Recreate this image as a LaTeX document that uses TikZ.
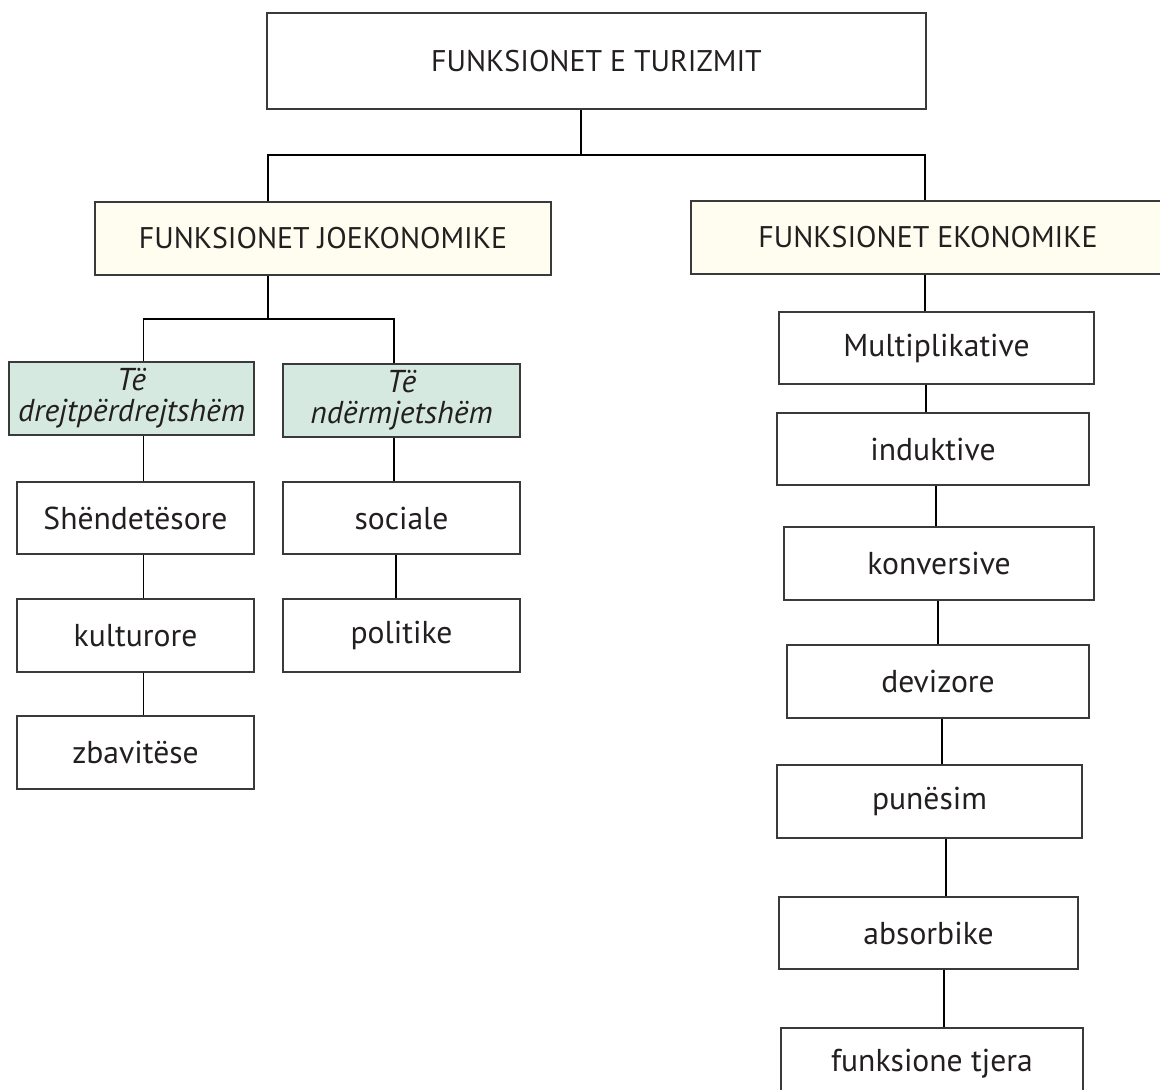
\documentclass[tikz,border=0pt]{standalone}
\usepackage{fontspec}
\setmainfont{PT Sans}
\usetikzlibrary{positioning}
\definecolor{boxline}{HTML}{3A3A3A}
\definecolor{inkblack}{HTML}{231F20}
\definecolor{paleyellow}{HTML}{FEFDEF}
\definecolor{palegreen}{HTML}{D6E9E1}

\begin{document}
\begin{tikzpicture}[x=0.02cm,y=-0.02cm,line width=0.65pt,
        boxsize/.style 2 args={minimum width=#1*0.02cm,minimum height=#2*0.02cm},
        main node/.style={rectangle,draw=boxline,text=inkblack,inner sep=0pt,align=center,font=\fontsize{18}{17.5}\selectfont},
        caps node/.style={main node,font=\fontsize{17}{17}\selectfont},
        head node/.style={caps node,fill=paleyellow},
        kind node/.style={main node,fill=palegreen,font=\fontsize{18}{17.5}\selectfont\itshape}]
        \useasboundingbox (0,0) rectangle (1160,1089);
        \node[caps node,boxsize={659}{96}] (top) at (596.5,61) {FUNKSIONET E TURIZMIT};
        \node[head node,boxsize={456}{73}] (joe) at (323,238.5) {FUNKSIONET JOEKONOMIKE};
        \node[head node,boxsize={474}{73}] (eko) at (928,237.5) {FUNKSIONET EKONOMIKE};
        % joekonomike
        \node[kind node,boxsize={245}{73}] (direct) at (131.5,398.5) {Të\\drejtpërdrejtshëm};
        \node[kind node,boxsize={237}{73}] (indirect) at (401.5,400.5) {Të\\ndërmjetshëm};
        \node[main node,boxsize={237}{72}] (health) at (135.5,518) {Shëndetësore};
        \node[main node,boxsize={237}{73}] (culture) at (135.5,635.5) {kulturore};
        \node[main node,boxsize={237}{73}] (fun) at (135.5,752.5) {zbavitëse};
        \node[main node,boxsize={237}{72}] (social) at (401.5,518) {sociale};
        \node[main node,boxsize={237}{73}] (politic) at (401.5,635.5) {politike};
        % ekonomike
        \node[main node,boxsize={315}{72}] (multi) at (936.5,348) {Multiplikative};
        \node[main node,boxsize={312}{72}] (induct) at (933,449) {induktive};
        \node[main node,boxsize={310}{73}] (convert) at (939,563.5) {konversive};
        \node[main node,boxsize={302}{73}] (foreign) at (938,681.5) {devizore};
        \node[main node,boxsize={305}{73}] (jobs) at (929.5,801.5) {punësim};
        \node[main node,boxsize={299}{72}] (absorb) at (928.5,933) {absorbike};
        \node[main node,boxsize={302}{72}] (other) at (932,1064) {funksione tjera};

        \coordinate (fork) at (581,155);
        \coordinate (forkL) at (268,155);
        \coordinate (forkR) at (925,155);
        \coordinate (subL) at (143.6,319);
        \coordinate (subR) at (394,319);
        \draw (top.south -| fork) -- (fork);
        \draw (joe.north -| forkL) -- (forkL) -- (forkR) -- (eko.north -| forkR);
        \draw (joe.south -| forkL) -- (forkL |- subL);
        \draw (direct.north -| subL) -- (subL) -- (subR) -- (indirect.north -| subR);
        \path
        (direct.south -| subL) edge (health.north -| subL)
        (health.south -| subL) edge (culture.north -| subL)
        (culture.south -| subL) edge (fun.north -| subL)
        (indirect.south -| subR) edge (social.north -| subR)
        (social.south -| 396,0) edge (politic.north -| 396,0)
        (eko.south -| forkR) edge (multi.north -| forkR)
        (multi.south -| 926,0) edge (induct.north -| 926,0)
        (induct.south -| 936,0) edge (convert.north -| 936,0)
        (convert.south -| 938,0) edge (foreign.north -| 938,0)
        (foreign.south -| 942,0) edge (jobs.north -| 942,0)
        (jobs.south -| 946,0) edge (absorb.north -| 946,0)
        (absorb.south -| 944,0) edge (other.north -| 944,0)
        ;
\end{tikzpicture}
\end{document}
